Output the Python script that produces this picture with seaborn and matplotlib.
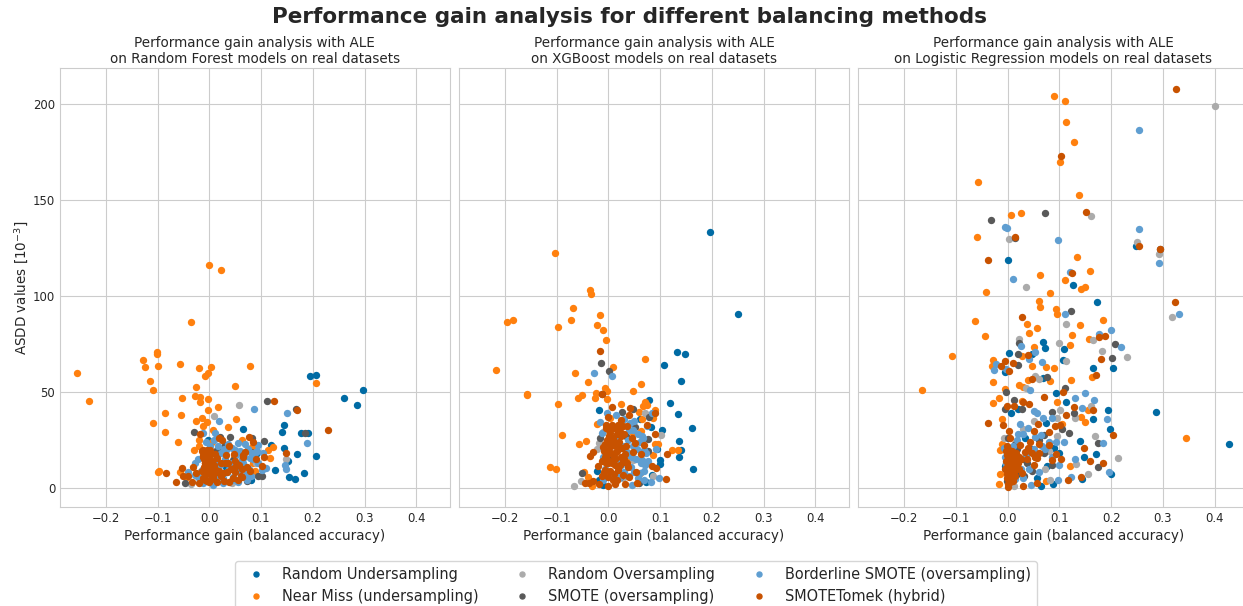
import pandas as pd
import matplotlib
matplotlib.use('Agg')
import matplotlib.pyplot as plt
import seaborn as sns

methods = ['Random Undersampling', 'Near Miss (undersampling)', 'Random Oversampling',
           'SMOTE (oversampling)', 'Borderline SMOTE (oversampling)', 'SMOTETomek (hybrid)']
colors = ['#006BA4', '#FF800E', '#ABABAB', '#595959', '#5F9ED1', '#C85200']
model_names = ['Random Forest', 'XGBoost', 'Logistic Regression']

# random forest
rf_under_x = [.195,.207,.298,.261,.285,.066,.145,.14,.178,.19,.12,.144,.17,.206,.152,.127,.184,.154,.165,.08,-.002,.091,.033,-.018]
rf_under_y = [58.1,59,50.8,47,43,30.8,32.7,28.9,28.5,28.7,22.6,20.7,17.4,16.4,14.1,9.4,7.5,5.7,4.7,4,24.9,17.9,11,3.1]
rf_miss_x = [0,.023,-.035,-.102,-.102,-.129,-.125,-.1,-.255,-.056,-.02,.003,.078,-.002,-.009,-.114,.207,.05,-.025,-.108,-.232,-.028,-.052,-.017,-.003,-.017,-.002,.017,-.085,-.054,-.015,.051,-.026,-.005,-.108,-.013,.036,-.085,.008,-.061,-.02,-.019,-.03,-.1,-.098,-.057,.124,.114,.118,.084,.088,.063,.005,.082,.047,.014,-.012,-.044]
rf_miss_y = [116,113.5,86.3,71,70,66.7,62.8,63.4,60,64.4,62.3,63.2,63.7,59.7,58.1,55.9,54.7,53.3,52.6,50.8,45.4,47.7,46.6,47.3,46.5,44.7,40.6,42.3,39.2,38,36.2,35.7,34.8,34.3,33.8,32.2,31.7,29.2,30,23.8,25.2,22,19.7,8.5,8.7,8.2,21.4,19.7,15.7,12.7,8.7,24.9,24,21.4,16,12.7,7.5,5.7]
rf_over_x = [.057,.01,.149,-.036,.043,.062,-.018,.014,.091,.033,-.002,.072]
rf_over_y = [43.3,37.6,14.8,1.9,2.6,12.7,8.4,19.7,12.7,21.4,5.7,7.5]
rf_smote_x = [.112,.167,.185,-.029,.02,.041,.082,.105,.03,.08,-.047,.073,.095,.102,.062,.014,.046,-.012]
rf_smote_y = [45.1,41.1,28.7,29.2,26.3,26.5,25.8,24.2,22.6,18.6,2.6,3.5,6.3,6.1,12.7,19.7,14.4,9.2]
rf_border_x = [.086,.15,.019,.189,-.012,-.006,.012,.055,.069,.095,.104,.091,-.021,.05,.033,.146,.149,.109,.101,.077,.08,-.028,-.041,-.021,-.012,.008,.027,.056,.066,.078,.04,-.015,-.028,.046,.072,.095,
               .016,.022,.028,.036,.044,.052,.06,.068,.075,.083,.012,.02,.03,.038,.047,.056,.064,.072,.085,.093,.018,.026,.035,.043,.061,.07,.006,.002,.009,.014]
rf_border_y = [41.3,38.8,35,23.5,28.7,24,28.7,23.5,22.8,22.6,18.3,18.5,14.8,19.7,19.7,11.8,9.6,10.6,9.2,9.7,6.1,12.7,8.4,5.7,2.3,1.7,2.3,3.1,12.7,15.3,12.7,9.2,6.6,5.7,4,12.7,
               22,18,20,23,21,17,19,16,20,18,14,12,15,10,13,9,15,7,15,19,7,5,8,4,6,5,3,22,25,6]
rf_tomek_x = [.125,.169,.229,.148,.101,-.017,.019,.024,.039,.076,.085,.069,.065,.032,.048,.09,.105,-.012,-.005,.001,.011,-.012,-.002,.014,-.008,.022,.037,.05,.063,-.052,-.032,-.083,-.026,-.05,-.042,-.064,-.033,-.02,-.002,.005,.014,.027,.05,.063,.056,.001,.014,.028,
              -.015,-.012,-.01,-.008,-.006,-.004,-.002,0,.002,.004,.006,.008,-.014,-.011,-.007,-.003,.001,.005,.009,-.013,-.009,-.005,-.001,.003,.007,.012,.018,.022,.03,.035,.042,.05,.058,.066,.072,.078,.062,.045,.038]
rf_tomek_y = [45.4,40.6,30.1,18.3,11.3,27.9,25.8,24.9,21.8,26.3,24,18.8,17,17,17.6,15.1,16,19.7,19.7,19.7,17.9,16.2,15.3,15.3,12.7,12.7,13,11,10,10.6,11,7.8,7.5,6.4,6.4,3.1,3.1,2.3,9.2,7.5,8.4,7.8,8.4,5.7,4,4,3.1,3.7,
              19,17,15,13,18,16,14,12,10,8,6,5,9,11,7,10,17,14,12,5,4,3.5,3,4.5,6,10,9,6,13,8,10,14,12,16,11,9,6,5,3]

# xgboost
xgb_under_x = [.197,.251,.132,.147,.107,.14,.079,.119,.134,.161,-.019,.103,.137,.141,.136,.1,.099,.164,.073,.083,.094,-.023,.061,.084,-.019,-.01]
xgb_under_y = [133.3,90.7,70.8,69.6,63.9,55.9,45.6,44,38.6,31.3,40.4,30.1,24.5,19.8,16,14.4,12.4,9.6,3.1,31.9,20,8.9,35.9,6.6,4,1.4]
xgb_miss_x = [-.103,-.036,-.033,-.068,-.017,-.072,-.185,-.196,-.098,-.022,-.011,-.005,.071,.008,-.217,-.065,-.039,.063,-.006,-.003,.048,-.158,-.158,-.024,-.052,-.059,-.026,-.002,-.098,.025,.066,.071,.074,.09,.059,.087,.064,-.023,.003,.062,-.09,-.044,-.056,.096,.09,.122,.135,.086,-.113,-.101,-.048,-.04,-.032,.048,.035,.061]
xgb_miss_y = [122.7,103,101.3,93.6,90.2,87.7,87.7,86.3,83.7,85,82.2,76.9,67,63,61.6,59.9,55.2,54.1,51.9,50.7,50.3,48.9,48.2,49.3,48.4,47,47,46.5,43.9,43.5,42.8,44.6,43.2,40.6,39.3,36.2,35.9,33.1,36.2,29.8,27.3,24.2,23.1,23.1,22.8,19.7,19.7,17.2,10.8,9.6,8.4,5.7,.9,28.4,14.4,7.5]
xgb_over_x = [-.067,-.053,.071,.101,-.019,-.01,-.023,.086,.029,.064,.016,.048]
xgb_over_y = [1.2,3.8,38.8,27.5,23.5,29.2,20,6.1,4.9,24.9,7.5,14.4]
xgb_smote_x = [-.014,.002,-.013,.047,.027,.079,.052,.034,-.016,.076,.025,.076,-.052,.059,.003,.023]
xgb_smote_y = [65.1,61.1,49.1,41.1,39.7,36.7,31.5,27,25.8,25.4,20.7,19.3,7.7,2.3,15.3,5.7]
xgb_border_x = [-.028,.006,-.003,.015,-.017,.042,.084,.048,-.013,.091,.035,-.01,.068,.064,.045,.071,.061,.098,.083,.046,-.01,.023,.016,.061,
                .03,.04,.05,.057,.066,.074,.03,.038,.047,.056,.065,.025,.035,.044,.053,.062,.072,.02,.04,.05,.058,.069,-.006,.01,.02,.03,.068,.077]
xgb_border_y = [59.7,58.1,39.2,37.9,34.5,33.6,39.2,30.1,28.4,20.4,18.8,16.2,19.7,14.4,16.2,11.8,7.5,5.2,3.1,1.4,4,14.4,24.9,24,
                36,30,35,28,26,32,22,25,22,20,27,12,17,11,15,13,18,9,6,8,5,9,10,24,5,8,4,14]
xgb_tomek_x = [-.016,-.013,.007,.041,.09,.04,0,.025,.074,.035,-.005,.01,.023,.003,.09,.045,.051,.068,.003,-.01,0,.014,.047,.032,.063,.113,-.029,-.035,-.006,.029,-.02,0,.013,.037,.085,.092,-.006,.019,.053,.029,-.013,0,.01,.039,.111,-.045,-.037,-.029,-.019,0,.013,.032,.056,
               -.004,.002,.006,.012,.018,.022,.028,.001,.008,.016,.024,.03,-.007,-.002,.004,.01,.015,.02,.027,.033,-.008,-.003,.005,.011,.017,.025,.03,-.012,-.005,.002,.007,.012,.023,.036,-.009,.003,.008,.016]
xgb_tomek_y = [71.5,49.1,42.3,41.9,39.2,37.9,37.1,35.2,32.9,32.4,31,31,29.2,28.4,28,25.8,23.5,22.3,24.9,21.4,19.7,18.5,18.5,17.9,17.6,17.9,18.5,16.7,16.2,13.6,11.5,12.7,11.8,11,11.5,10.6,9.2,9.2,8.2,6.6,6.1,5.7,7.1,5.7,4.4,2.3,2.3,3.7,1.9,1,1.9,1.9,2.6,
               33,30,33,31,33,31,32,27,26,28,27,28,23,25,22,24,22,24,21,22,19,17,18,16,19,16,15,14,13,14,13,15,12,13,8,9,4,4]

# logistic regression
lr_under_x = [.248,0,.127,.172,.002,.069,.073,.108,.048,.107,.164,.203,-.006,.068,.093,.113,.194,.006,.02,.286,.164,.075,.197,.428,.14,.033,.17,.147,.099,.09,.077,.2,.144,.057,.088,.064,-.006,.002,.019,-.004]
lr_under_y = [126.4,118.8,105.7,97,70.4,76,73.2,72.6,69.7,66.6,62.4,62.7,60.5,57.1,49.7,44.6,40.8,38.9,40.9,39.7,35.7,34,30.8,22.8,24.4,25.8,17.4,16,18.3,20.6,11.3,7.3,4.4,5.2,2.1,1,11.3,4.4,7,13.1]
lr_miss_x = [.089,.111,.113,.128,.101,-.057,.138,.006,.026,-.06,.134,.16,.062,.11,.149,.141,-.042,.082,.06,.062,.093,.095,-.063,.14,.184,.037,.056,.042,-.044,.124,.158,.12,.051,-.107,-.028,-.031,.028,.047,.075,.09,.123,.163,.039,.082,-.028,.021,.03,-.165,-.006,-.017,-.028,.028,.095,.155,.141,.15,-.01,.105,.344,-.011,-.015,.12,-.014,-.016,.075]
lr_miss_y = [204.3,201.7,191,180.2,170,159.4,153,142.5,143.2,131,120.3,113,111,108.2,105,103.6,102.3,101.6,97.4,94.4,93.2,90.9,86.8,84.8,87.3,85.2,83.3,80.8,79.3,79.6,77.5,74.4,73.5,68.6,66.7,63.6,68.8,63.6,63,62.7,56.3,57.8,56.3,55.7,55.4,53.5,52.8,51.2,51.7,47,44,45.3,44.6,40.8,36.9,34.3,35.7,33.4,25.8,23,19.5,11.3,7.1,2.1,3.8]
lr_over_x = [.4,.161,.002,.25,.293,.036,.318,.113,.164,.022,.1,.183,.231,.113,.053,.061,.035,.161,.102,.131,.096,.051,.03,-.007,.096,.169,.08,.214,.133,.072,.156,.082,.012]
lr_over_y = [199.3,142,130,128.1,121.9,104.7,89,85.2,77.2,77.5,75.8,71.3,68.3,66,58.4,57,52.3,42.7,40.6,36.2,36.6,34.8,30.5,26.1,27,27,19.2,15.5,12.2,9.6,7.3,4,.9]
lr_smote_x = [-.033,.073,.014,.295,.123,.207,.202,.022,.02,.02,.076,.11,-.003,.012,-.006,.028,.086,.128,.105,.118,.07,.174,.001,.019,.086,.174,.047,.031,-.001,
              .006,.015,.03,.045,.06,.004,.022,.038,.052,.07]
lr_smote_y = [139.9,143.2,130.2,124.5,92.3,74.9,67.9,75.8,69.7,63.9,58,52.1,50,45.6,41.3,41.3,39.5,39.2,30.5,28.7,27.4,23.2,25.8,20,11.7,11.1,8.7,6.1,3.5,
              18,23,15,20,25,6,9,13,16,18]
lr_border_x = [.253,.253,-.005,-.002,.097,.292,.12,.01,.332,.111,.199,.176,.219,.025,.053,.066,.042,-.027,-.023,-.004,.044,.149,.167,.131,.143,.051,.057,.069,.085,.192,.023,.02,.064,.052,.093,.109,.185,-.007,.007,.131,.1,-.004,.041,.195,.122,.098,.046,.015,
               -.006,.002,.01,.018,.03,.04,.072,.08,.012,.026,.035,.05,.066,.085,.004,.03,.06]
lr_border_y = [186.8,134.9,136,135.4,129.5,117.5,112.7,108.7,90.8,90.6,82.2,80.5,73.7,74,71.1,65.7,67.4,61.5,64.5,62.2,51,49.7,45.6,46.9,41.8,40.2,38.9,36.6,36.4,35.7,33.4,28.2,27.4,26.5,23.9,23.9,23.3,20.9,20.4,14.8,11.8,12.2,9.6,8.5,5.6,4,1.4,4.4,
               16,18,22,25,28,31,20,24,13,10,17,20,22,16,7,5,8]
lr_tomek_x = [.325,.103,.152,.014,.295,.253,-.038,.124,.323,.028,.176,.188,.181,.171,-.012,-.005,.01,.039,.002,.047,.107,.07,-.002,.013,.03,.042,.129,.165,.113,-.038,.059,.092,.102,.051,.08,.203,-.009,.003,.004,.044,.024,.06,.08,-.001,.034,.148,.061,.093,-.002,.012,.025,.038,.057,.085,.104,.16,.185,.009,.019,.051,-.001,.028,.012,-.001,.011,0,.03,.057,.116,.141,
              -.004,0,.004,.008,.013,.017,.022,-.003,.002,.006,.01,.015,.02,-.005,-.001,.003,.007,.011,.016,.021,-.002,.002,.006,.01,.014,.005,.001,.04,.048,.052]
lr_tomek_y = [208.2,173,143.9,131,124.5,125.9,118.8,112,96.7,88.9,78.9,79.1,67.2,58.9,63.8,66.4,65.3,69.2,60.8,57,50.2,47.4,42.9,42.5,44.8,43.6,42.3,40.4,38.2,33.8,33.4,32.2,32.6,29.6,28.9,27.4,32.8,29.6,26.1,23.9,22.1,23,22.5,21.8,18.8,20.6,18.3,17.4,17.1,16,14.8,14.8,15.7,14.5,14.8,14.1,12.7,13.1,12.2,11.7,8.7,7.8,8.2,5.2,3.5,.5,1.2,2.6,4,5.9,
              19,20,18,19,17,18,16,14,15,13,15,14,13,10,11,12,10,11,11,10,7,8,6,7,6,3,2,21,18,16]

gain_x = [
    [rf_under_x, rf_miss_x, rf_over_x, rf_smote_x, rf_border_x, rf_tomek_x],
    [xgb_under_x, xgb_miss_x, xgb_over_x, xgb_smote_x, xgb_border_x, xgb_tomek_x],
    [lr_under_x, lr_miss_x, lr_over_x, lr_smote_x, lr_border_x, lr_tomek_x],
]
asdd_y = [
    [rf_under_y, rf_miss_y, rf_over_y, rf_smote_y, rf_border_y, rf_tomek_y],
    [xgb_under_y, xgb_miss_y, xgb_over_y, xgb_smote_y, xgb_border_y, xgb_tomek_y],
    [lr_under_y, lr_miss_y, lr_over_y, lr_smote_y, lr_border_y, lr_tomek_y],
]

sns.set_style('whitegrid')
fig, axes = plt.subplots(1, 3, figsize=(12.43, 6.06), dpi=100, sharex=True, sharey=True)
fig.subplots_adjust(left=60/1243, right=1248/1243, top=1-68/606, bottom=1-507/606, wspace=0.0245)

for i, ax in enumerate(axes):
    rows = []
    for j, method in enumerate(methods):
        rows.append(pd.DataFrame({'gain': gain_x[i][j], 'asdd': asdd_y[i][j], 'method': method}))
    df = pd.concat(rows)
    # drawn one method at a time so later methods sit on top
    for j, method in enumerate(methods):
        sns.scatterplot(data=df[df['method'] == method], x='gain', y='asdd', color=colors[j],
                        s=28, linewidth=0, label=method, legend=False, ax=ax, zorder=3 + j)
    ax.set_title(f'Performance gain analysis with ALE\non {model_names[i]} models on real datasets',
                 fontsize=9.75, pad=3.5)
    ax.set_xlabel('Performance gain (balanced accuracy)', fontsize=9.75, labelpad=3)
    ax.set_ylabel('ASDD values [$10^{-3}$]', fontsize=9.75, labelpad=2)
    ax.set_xlim(-0.2885, 0.4645)
    ax.set_ylim(-10, 219)
    ax.set_xticks([-0.2, -0.1, 0, 0.1, 0.2, 0.3, 0.4])
    ax.set_yticks([0, 50, 100, 150, 200])
    ax.tick_params(labelsize=8.4, length=0)

handles = [plt.Line2D([], [], linestyle='', marker='o', markersize=3.6, color=c) for c in colors]
fig.legend(handles, methods, ncol=3, loc='lower center', bbox_to_anchor=(636/1243, -0.019),
           fontsize=10.45, frameon=True, labelspacing=0.5, columnspacing=2.0)
fig.suptitle('Performance gain analysis for different balancing methods', fontsize=15.45,
             fontweight='bold', x=629.5/1243, y=0.988)
fig.savefig('out.png', dpi=100)
